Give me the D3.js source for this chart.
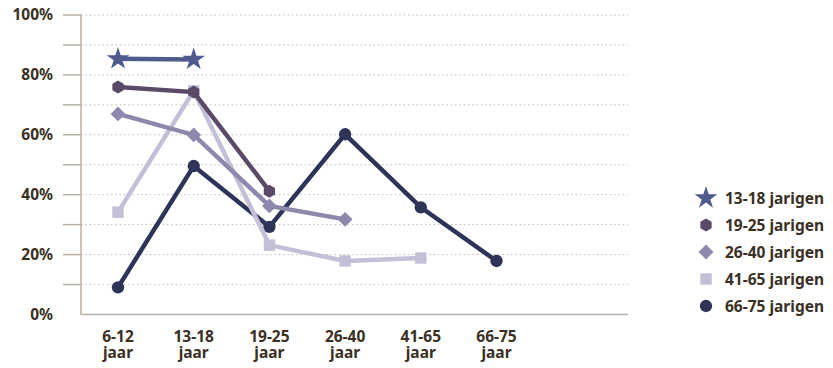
<!DOCTYPE html>
<html><head><meta charset="utf-8">
<script src="https://cdn.jsdelivr.net/npm/d3@7"></script>
<style>body{margin:0;background:#fff}svg{display:block}text{font-family:"Noto Sans",sans-serif;font-weight:bold;fill:#3a3024}</style>
</head><body><svg id="c" width="833" height="368"></svg>
<script>
const categories = ["6-12 jaar","13-18 jaar","19-25 jaar","26-40 jaar","41-65 jaar","66-75 jaar"];
const seriesNames = ["13-18 jarigen","19-25 jarigen","26-40 jarigen","41-65 jarigen","66-75 jarigen"];
const s1318 = [85.2, 85.0, null, null, null, null];
const s1925 = [75.8, 74.1, 41.0, null, null, null];
const s2640 = [66.8, 59.8, 36.1, 31.6, null, null];
const s4165 = [34.0, 74.5, 23.0, 17.7, 18.7, null];
const s6675 = [8.9, 49.4, 29.1, 60.0, 35.6, 17.7];
const yTicks = [0,20,40,60,80,100];
const colors = ["#4f5a8d","#5a4a67","#8c89ad","#c2bfd6","#2e3458"];
const symbols = ["star","hex","diamond","square","circle"];
const values = [s1318,s1925,s2640,s4165,s6675];

const svg = d3.select("#c");
const y = d3.scaleLinear().domain([0,100]).range([314,14.5]);
const x = d3.scaleLinear().domain([0,5]).range([118,496.5]);
const x0 = 81, x1 = 628;

const g = svg.append("g");
d3.range(10,101,10).forEach(v=>{
  g.append("line").attr("x1",x0).attr("x2",x1).attr("y1",y(v)+0.5).attr("y2",y(v)+0.5)
   .attr("stroke","#bdbab4").attr("stroke-width",1).attr("stroke-dasharray","1.5,2.8");
  g.append("line").attr("x1",63).attr("x2",x0).attr("y1",y(v)+0.5).attr("y2",y(v)+0.5)
   .attr("stroke","#b8b0a7").attr("stroke-width",1.5);
});
g.append("line").attr("x1",x0).attr("x2",x0).attr("y1",y(100)).attr("y2",y(0)+1).attr("stroke","#b8b0a7").attr("stroke-width",1.5);
g.append("line").attr("x1",x0).attr("x2",x1).attr("y1",y(0)+0.5).attr("y2",y(0)+0.5).attr("stroke","#b8b0a7").attr("stroke-width",1.5);

yTicks.forEach(v=>{
  svg.append("text").attr("x",53).attr("y",y(v)+5.5).attr("text-anchor","end").attr("font-size",15.5).text(v+"%");
});
categories.forEach((c,i)=>{
  const parts = c.split(" ");
  const t = svg.append("text").attr("x",x(i)).attr("y",342).attr("text-anchor","middle").attr("font-size",15.5);
  t.append("tspan").attr("x",x(i)).text(parts[0]);
  t.append("tspan").attr("x",x(i)).attr("dy",16).text(parts[1]);
});

function sym(name){
  const hex = {draw(ctx,size){const r=Math.sqrt(size/2.6);for(let k=0;k<6;k++){const a=Math.PI/6+k*Math.PI/3;k?ctx.lineTo(r*Math.cos(a),r*Math.sin(a)):ctx.moveTo(r*Math.cos(a),r*Math.sin(a));}ctx.closePath();}};
  const dia = {draw(ctx,size){const r=Math.sqrt(size/2);ctx.moveTo(0,-r);ctx.lineTo(r,0);ctx.lineTo(0,r);ctx.lineTo(-r,0);ctx.closePath();}};
  return {star:[d3.symbolStar,160],hex:[hex,110],diamond:[dia,110],square:[d3.symbolSquare,130],circle:[d3.symbolCircle,120]}[name];
}

const line = d3.line().defined(d=>d!=null).x((d,i)=>x(i)).y(d=>y(d));
for(let s=values.length-1;s>=0;s--){
  const vals = values[s];
  svg.append("path").attr("d",line(vals)).attr("fill","none").attr("stroke",colors[s]).attr("stroke-width",4.5).attr("stroke-linejoin","miter");
  const [ty,sz]=sym(symbols[s]);
  vals.forEach((v,i)=>{ if(v==null) return;
    svg.append("path").attr("d",d3.symbol(ty,sz)()).attr("transform",`translate(${x(i)},${y(v)})`).attr("fill",colors[s]);
  });
}

const ly = [198,225,252,279,306];
seriesNames.forEach((n,s)=>{
  const [ty,sz]=sym(symbols[s]);
  svg.append("path").attr("d",d3.symbol(ty,sz)()).attr("transform",`translate(706,${ly[s]})`).attr("fill",colors[s]);
  svg.append("text").attr("x",725).attr("y",ly[s]+5.5).attr("font-size",15.5).text(n);
});
</script></body></html>
